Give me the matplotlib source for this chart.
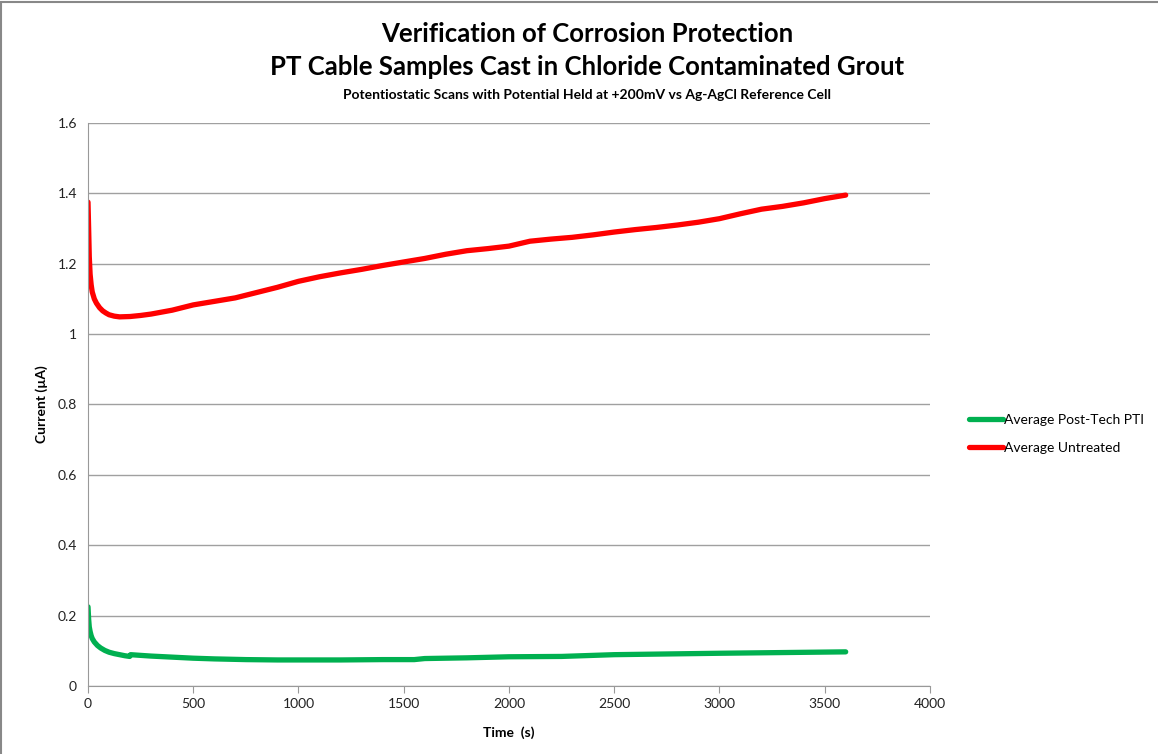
import matplotlib.pyplot as plt
from matplotlib.patches import Rectangle

# Data
untreated_t = [0, 3, 6, 10, 15, 20, 30, 40, 55, 70, 85, 100, 125, 150, 200, 250, 300, 400,
               500, 600, 700, 800, 900, 1000, 1100, 1200, 1300, 1400, 1500, 1600, 1700, 1800,
               1900, 2000, 2100, 2200, 2300, 2400, 2500, 2600, 2700, 2800, 2900, 3000, 3100,
               3200, 3300, 3400, 3500, 3600]
untreated_i = [1.375, 1.30, 1.22, 1.17, 1.14, 1.12, 1.10, 1.088, 1.075, 1.066, 1.06, 1.055,
               1.051, 1.049, 1.050, 1.053, 1.057, 1.068, 1.083, 1.093, 1.103, 1.118, 1.133,
               1.150, 1.163, 1.174, 1.184, 1.195, 1.205, 1.215, 1.227, 1.237, 1.243, 1.250,
               1.264, 1.270, 1.275, 1.282, 1.290, 1.297, 1.303, 1.310, 1.318, 1.328, 1.342,
               1.355, 1.363, 1.373, 1.385, 1.395]

posttech_t = [0, 3, 6, 10, 15, 20, 30, 45, 60, 80, 100, 125, 150, 175, 198, 202, 250, 300,
              400, 500, 600, 750, 900, 1000, 1200, 1400, 1550, 1600, 1800, 2000, 2250, 2500,
              2750, 3000, 3300, 3600]
posttech_i = [0.225, 0.19, 0.168, 0.155, 0.143, 0.135, 0.125, 0.115, 0.108, 0.101, 0.096,
              0.092, 0.089, 0.086, 0.084, 0.089, 0.087, 0.085, 0.082, 0.079, 0.077, 0.075,
              0.074, 0.074, 0.074, 0.075, 0.075, 0.078, 0.080, 0.083, 0.084, 0.089, 0.091,
              0.093, 0.095, 0.097]

x_ticks = [0, 500, 1000, 1500, 2000, 2500, 3000, 3500, 4000]
y_ticks = [0, 0.2, 0.4, 0.6, 0.8, 1.0, 1.2, 1.4, 1.6]
y_labels = ['0', '0.2', '0.4', '0.6', '0.8', '1', '1.2', '1.4', '1.6']

plt.rcParams['font.family'] = ['Lato', 'DejaVu Sans']

fig = plt.figure(figsize=(11.58, 7.54), dpi=100)
ax = fig.add_axes([0.076, 0.0902, 0.727, 0.7467])

ax.plot(posttech_t, posttech_i, color='#00B050', lw=3.8, label='Average Post-Tech PTI',
        solid_capstyle='round')
ax.plot(untreated_t, untreated_i, color='#FF0000', lw=3.8, label='Average Untreated',
        solid_capstyle='round')

ax.set_xlim(0, 4000)
ax.set_ylim(0, 1.6)
ax.set_xticks(x_ticks)
ax.set_yticks(y_ticks)
ax.set_yticklabels(y_labels)
ax.tick_params(axis='both', labelsize=10, colors='#222222')
ax.tick_params(axis='x', length=5, color='#999999', direction='out')
ax.tick_params(axis='y', length=0, pad=8)
ax.grid(axis='y', color='#A0A0A0', lw=1)
ax.set_axisbelow(True)
for side in ['top', 'right']:
    ax.spines[side].set_visible(False)
for side in ['left', 'bottom']:
    ax.spines[side].set_color('#999999')

ax.set_xlabel('Time  (s)', fontsize=10, fontweight='bold', labelpad=12)
ax.set_ylabel('Current (\u00b5A)', fontsize=10, fontweight='bold', labelpad=7)

fig.text(0.507, 0.955, 'Verification of Corrosion Protection', ha='center', va='center',
         fontsize=18.5, fontweight='bold')
fig.text(0.507, 0.911, 'PT Cable Samples Cast in Chloride Contaminated Grout', ha='center',
         va='center', fontsize=18.5, fontweight='bold')
fig.text(0.507, 0.874, 'Potentiostatic Scans with Potential Held at +200mV vs Ag-AgCl Reference Cell',
         ha='center', va='center', fontsize=10, fontweight='bold')

ax.legend(loc='center left', bbox_to_anchor=(1.032, 0.447), frameon=False, fontsize=10,
          handlelength=2.4, handletextpad=0.1, labelspacing=1.15)

# chart frame
fig.patches.append(Rectangle((0.001, -0.01), 1.5, 1.008, transform=fig.transFigure,
                             fill=False, edgecolor='#888888', lw=1.5))

fig.savefig('out.png', dpi=100)
